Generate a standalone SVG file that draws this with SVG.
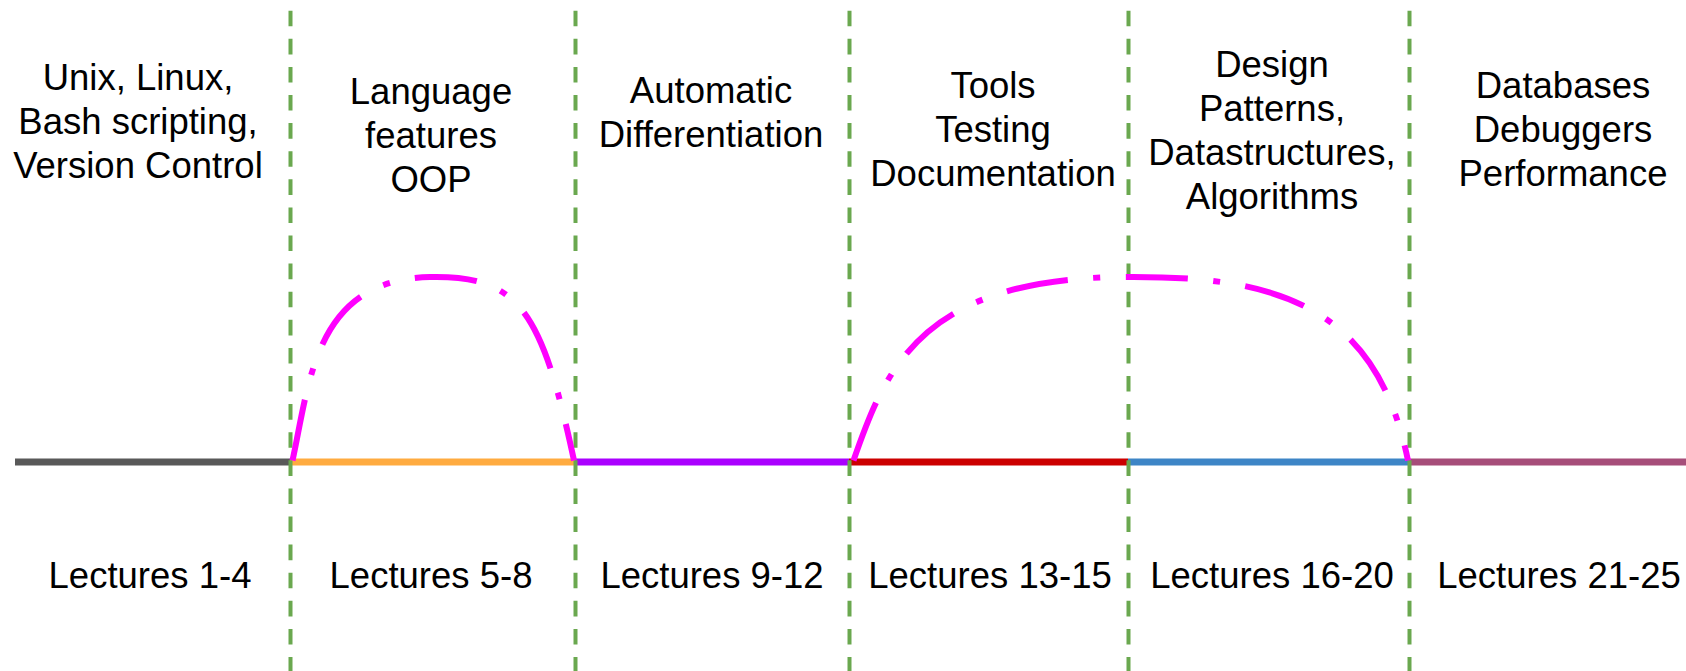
<svg xmlns="http://www.w3.org/2000/svg" width="1686" height="671" viewBox="0 0 1686 671">
  <style>
    .lbl { font-family: "Liberation Sans", Arial, sans-serif; font-size: 36.5px; fill: #000; text-anchor: middle; }
    .sep { stroke: #6aa84f; stroke-width: 4; stroke-dasharray: 15.6 12.5; fill: none; }
    .seg { stroke-width: 7; fill: none; }
    .arc { stroke: #ff00ff; stroke-width: 6; fill: none; stroke-dasharray: 62 25.5 7 25.5; stroke-linecap: butt; }
  </style>
  <rect width="1686" height="671" fill="#ffffff"/>

  <!-- timeline segments -->
  <g id="timeline">
    <line class="seg" x1="15" y1="462" x2="290" y2="462" stroke="#595959"/>
    <line class="seg" x1="290" y1="462" x2="575" y2="462" stroke="#ffab40"/>
    <line class="seg" x1="575" y1="462" x2="849" y2="462" stroke="#aa00ff"/>
    <line class="seg" x1="849" y1="462" x2="1128" y2="462" stroke="#cc0000"/>
    <line class="seg" x1="1128" y1="462" x2="1409" y2="462" stroke="#3d85c6"/>
    <line class="seg" x1="1409" y1="462" x2="1686" y2="462" stroke="#a64d79"/>
  </g>

  <!-- section separators -->
  <g id="separators">
    <line class="sep" x1="290.5" y1="10.7" x2="290.5" y2="671"/>
    <line class="sep" x1="575.5" y1="10.7" x2="575.5" y2="671"/>
    <line class="sep" x1="849.5" y1="10.7" x2="849.5" y2="671"/>
    <line class="sep" x1="1128.5" y1="10.7" x2="1128.5" y2="671"/>
    <line class="sep" x1="1409.5" y1="10.7" x2="1409.5" y2="671"/>
  </g>

  <!-- dash-dot arcs spanning lecture blocks -->
  <g id="connectors">
    <path class="arc" d="M292.5,460.5 C310,380 315,280 430,277 C520,275 542,312 574,460.5"/>
    <path class="arc" d="M853.5,460.5 C885,370 920,280 1118,277 C1270,275 1375,300 1408,460.5"/>
  </g>

  <!-- topic labels -->
  <g id="topic-1">
    <text class="lbl" x="138" y="90">Unix, Linux,</text>
    <text class="lbl" x="138" y="134">Bash scripting,</text>
    <text class="lbl" x="138" y="178">Version Control</text>
  </g>
  <g id="topic-2">
    <text class="lbl" x="431" y="104">Language</text>
    <text class="lbl" x="431" y="148">features</text>
    <text class="lbl" x="431" y="192">OOP</text>
  </g>
  <g id="topic-3">
    <text class="lbl" x="711" y="103">Automatic</text>
    <text class="lbl" x="711" y="147">Differentiation</text>
  </g>
  <g id="topic-4">
    <text class="lbl" x="993" y="98">Tools</text>
    <text class="lbl" x="993" y="142">Testing</text>
    <text class="lbl" x="993" y="186">Documentation</text>
  </g>
  <g id="topic-5">
    <text class="lbl" x="1272" y="77">Design</text>
    <text class="lbl" x="1272" y="121">Patterns,</text>
    <text class="lbl" x="1272" y="165">Datastructures,</text>
    <text class="lbl" x="1272" y="209">Algorithms</text>
  </g>
  <g id="topic-6">
    <text class="lbl" x="1563" y="98">Databases</text>
    <text class="lbl" x="1563" y="142">Debuggers</text>
    <text class="lbl" x="1563" y="186">Performance</text>
  </g>

  <!-- lecture ranges -->
  <g id="range-1"><text class="lbl" x="150" y="588">Lectures 1-4</text></g>
  <g id="range-2"><text class="lbl" x="431" y="588">Lectures 5-8</text></g>
  <g id="range-3"><text class="lbl" x="712" y="588">Lectures 9-12</text></g>
  <g id="range-4"><text class="lbl" x="990" y="588">Lectures 13-15</text></g>
  <g id="range-5"><text class="lbl" x="1272" y="588">Lectures 16-20</text></g>
  <g id="range-6"><text class="lbl" x="1559" y="588">Lectures 21-25</text></g>
</svg>
